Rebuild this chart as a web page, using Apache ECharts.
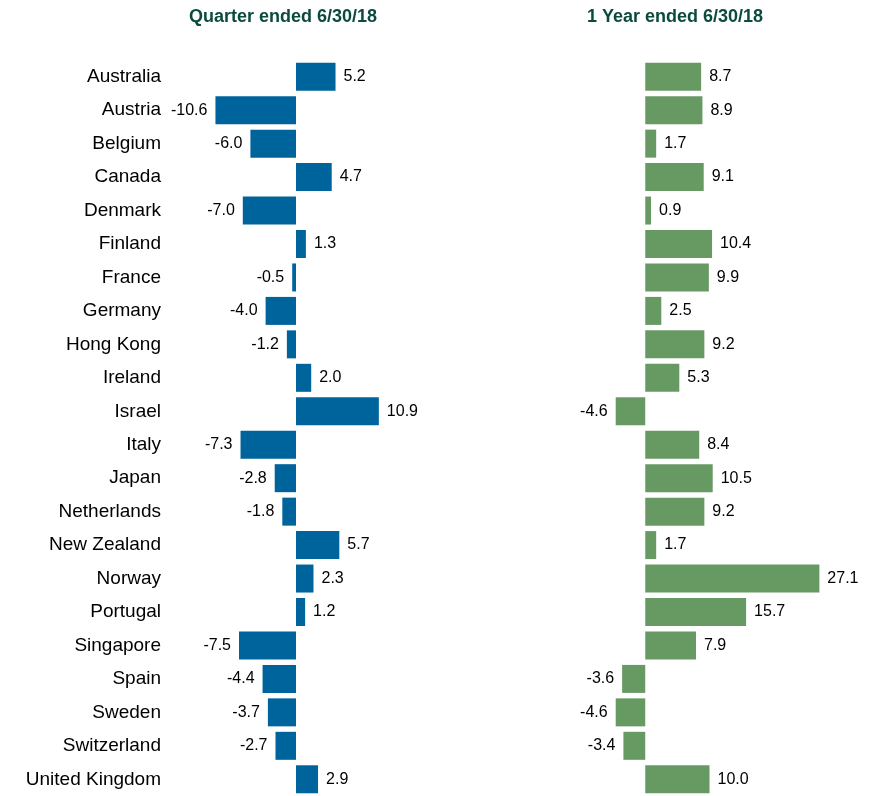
<!DOCTYPE html>
<html>
<head>
<meta charset="utf-8">
<script src="https://cdn.jsdelivr.net/npm/echarts@6/dist/echarts.min.js"></script>
<style>
  html, body { margin: 0; padding: 0; background: #fff; }
  #chart { width: 872px; height: 796px; }
</style>
</head>
<body>
<div id="chart"></div>
<script>
// 国家列表
const countries = [
  'Australia', 'Austria', 'Belgium', 'Canada', 'Denmark', 'Finland', 'France',
  'Germany', 'Hong Kong', 'Ireland', 'Israel', 'Italy', 'Japan', 'Netherlands',
  'New Zealand', 'Norway', 'Portugal', 'Singapore', 'Spain', 'Sweden',
  'Switzerland', 'United Kingdom'
]

// 季度回报
const quarterValues = [
  5.2, -10.6, -6.0, 4.7, -7.0, 1.3, -0.5, -4.0, -1.2, 2.0, 10.9,
  -7.3, -2.8, -1.8, 5.7, 2.3, 1.2, -7.5, -4.4, -3.7, -2.7, 2.9
]

// 一年回报
const yearValues = [
  8.7, 8.9, 1.7, 9.1, 0.9, 10.4, 9.9, 2.5, 9.2, 5.3, -4.6,
  8.4, 10.5, 9.2, 1.7, 27.1, 15.7, 7.9, -3.6, -4.6, -3.4, 10.0
]

const titles = ['Quarter ended 6/30/18', '1 Year ended 6/30/18']

const font = 'Liberation Sans, Arial, sans-serif'

// 正数标签在右, 负数在左
function toItems(values) {
  return values.map(v => ({
    value: v,
    label: {
      position: v < 0 ? 'left' : 'right',
      formatter: v.toFixed(1)
    }
  }))
}

const chart = echarts.init(document.getElementById('chart'))

const titleStyle = { color: '#0b4a3e', fontSize: 18, fontWeight: 'bold', fontFamily: font }

const option = {
  animation: false,
  title: [
    { text: titles[0], left: 278, top: 3, textAlign: 'center', textStyle: titleStyle },
    { text: titles[1], left: 670, top: 3, textAlign: 'center', textStyle: titleStyle }
  ],
  grid: [
    { left: 182, width: 228, top: 60, height: 750 },
    { left: 581, width: 257, top: 60, height: 750 }
  ],
  xAxis: [
    { gridIndex: 0, type: 'value', min: -15, max: 15, show: false },
    { gridIndex: 1, type: 'value', min: -10, max: 30, show: false }
  ],
  yAxis: [
    {
      gridIndex: 0,
      type: 'category',
      data: countries,
      inverse: true,
      axisLine: { show: false },
      axisTick: { show: false },
      splitLine: { show: false },
      axisLabel: { margin: 21, color: '#000', fontSize: 19, fontFamily: font }
    },
    {
      gridIndex: 1,
      type: 'category',
      data: countries,
      inverse: true,
      show: false
    }
  ],
  series: [
    {
      type: 'bar',
      xAxisIndex: 0,
      yAxisIndex: 0,
      barWidth: 28,
      data: toItems(quarterValues),
      itemStyle: { color: '#00649c' },
      label: { show: true, distance: 8, color: '#000', fontSize: 16, fontFamily: font }
    },
    {
      type: 'bar',
      xAxisIndex: 1,
      yAxisIndex: 1,
      barWidth: 28,
      data: toItems(yearValues),
      itemStyle: { color: '#679a63' },
      label: { show: true, distance: 8, color: '#000', fontSize: 16, fontFamily: font }
    }
  ]
}

chart.setOption(option)
</script>
</body>
</html>
